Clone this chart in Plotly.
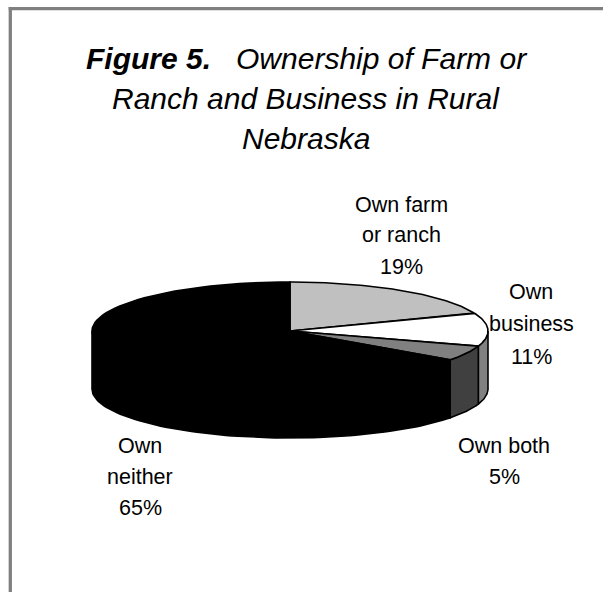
import numpy as np
import plotly.graph_objects as go

# Data
categories = ["Own farm or ranch", "Own business", "Own both", "Own neither"]
shares = [19, 11, 5, 65]
top_colors = ["#C0C0C0", "#FFFFFF", "#808080", "#000000"]
side_colors = ["#808080", "#808080", "#404040", "#000000"]
label_lines = [
    ["Own farm", "or ranch", "19%"],
    ["Own", "business", "11%"],
    ["Own both", "5%"],
    ["Own", "neither", "65%"],
]
title_lines = [
    "<b>Figure 5.</b>\u00a0\u00a0\u00a0Ownership of Farm or",
    "Ranch and Business in Rural",
    "Nebraska",
]

# Layout geometry (pixels)
W, H = 603, 592
CX, CY, RX, RY, DEPTH = 290, 331, 198, 49, 58
LABEL_X = [401, 531, 504, 140]
LABEL_Y = [[205, 235, 267], [292, 324, 357], [446, 477], [446, 477, 508]]
TITLE_X, TITLE_Y = 306, [58, 98, 138]


def rim(a0, a1, n=80):
    a = np.radians(np.linspace(a0, a1, n))
    return CX + RX * np.sin(a), CY - RY * np.cos(a)


fig = go.Figure()
edges = np.cumsum([0] + shares) * 3.6

# Side walls: only the front half of the disc (90 to 270 degrees) is visible
for i in range(len(shares)):
    a0, a1 = max(edges[i], 90), min(edges[i + 1], 270)
    if a1 <= a0:
        continue
    x, y = rim(a0, a1)
    fig.add_trace(go.Scatter(
        x=np.r_[x, x[::-1], x[0]], y=np.r_[y, y[::-1] + DEPTH, y[0]],
        mode="lines", fill="toself", fillcolor=side_colors[i],
        line=dict(color="black", width=1.6), hoverinfo="skip", showlegend=False))

# Top faces
for i in range(len(shares)):
    x, y = rim(edges[i], edges[i + 1])
    fig.add_trace(go.Scatter(
        x=np.r_[CX, x, CX], y=np.r_[CY, y, CY],
        mode="lines", fill="toself", fillcolor=top_colors[i],
        line=dict(color="black", width=1.6), name=categories[i],
        hoverinfo="name", showlegend=False))

for lines, lx, ys in zip(label_lines, LABEL_X, LABEL_Y):
    for t, ly in zip(lines, ys):
        fig.add_annotation(x=lx, y=ly, text=t, showarrow=False, xanchor="center", yanchor="middle",
                           font=dict(family="Liberation Sans", size=21.5, color="black"))

for t, ly in zip(title_lines, TITLE_Y):
    fig.add_annotation(x=TITLE_X, y=ly, text=f"<i>{t}</i>", showarrow=False, xanchor="center",
                       yanchor="middle", font=dict(family="Liberation Sans", size=30, color="black"))

# Chart frame: top and left edges only are inside the window
fig.add_shape(type="line", x0=8.7, x1=W, y0=8.7, y1=8.7, line=dict(color="#808080", width=3.3))
fig.add_shape(type="line", x0=10.3, x1=10.3, y0=7, y1=H, line=dict(color="#808080", width=3.3))

fig.update_xaxes(range=[0, W], visible=False, fixedrange=True)
fig.update_yaxes(range=[H, 0], visible=False, fixedrange=True)
fig.update_layout(width=W, height=H, margin=dict(l=0, r=0, t=0, b=0, pad=0),
                  paper_bgcolor="white", plot_bgcolor="white", showlegend=False)
fig.write_html("out.html", config={"displayModeBar": False},
               post_script="document.body.style.margin='0';document.body.style.overflow='hidden';")
